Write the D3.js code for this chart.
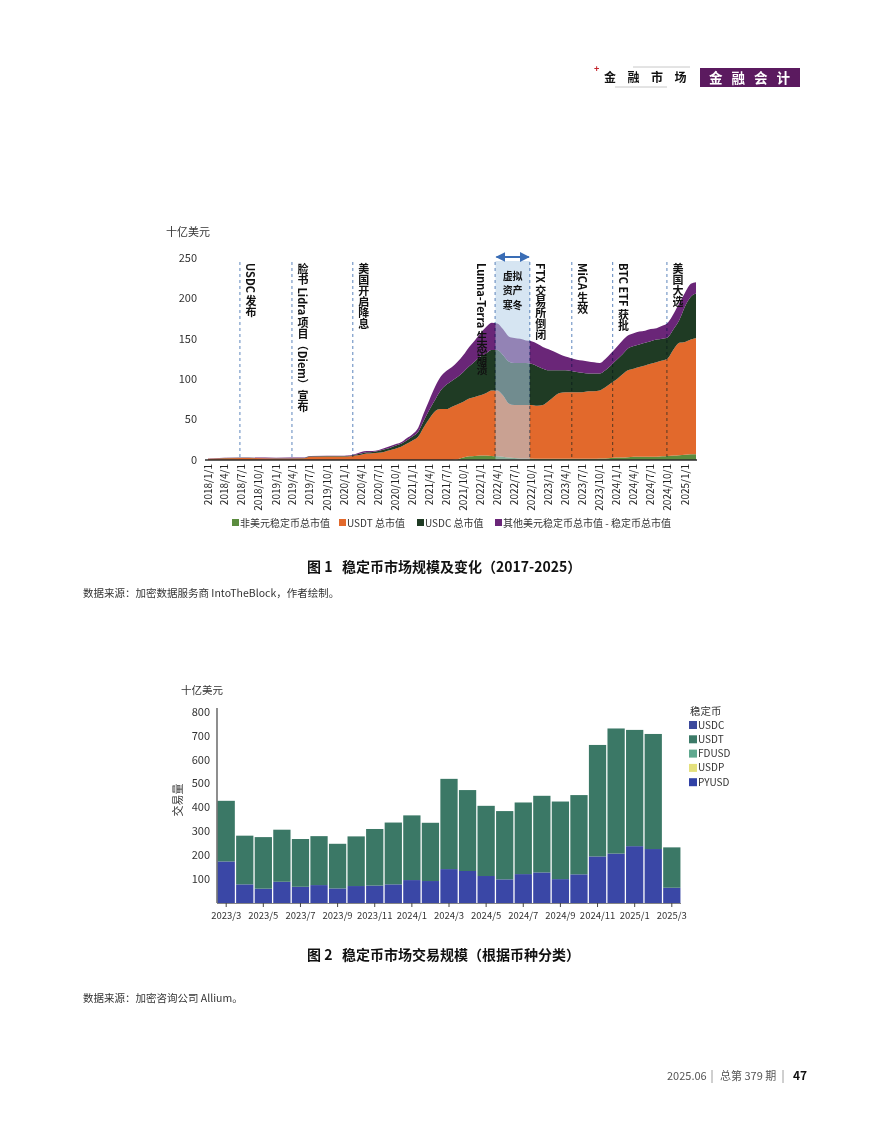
<!DOCTYPE html>
<html><head><meta charset="utf-8">
<script src="https://cdn.jsdelivr.net/npm/d3@7"></script>
<style>
body{margin:0;background:#fff;}
svg{display:block;font-family:"Noto Sans CJK SC","Noto Sans",sans-serif;}
</style></head><body>
<svg id="page" width="884" height="1122"></svg>
<script>
// ---------- Figure 1 data (billion USD) ----------
const marketDates = ["2018-01","2018-07","2019-01","2019-06","2019-07","2020-01","2020-02","2020-03","2020-04","2020-05","2020-06","2020-07","2020-08","2020-09","2020-10","2020-11","2020-12","2021-01","2021-02","2021-03","2021-04","2021-05","2021-06","2021-07","2021-08","2021-09","2021-10","2021-11","2021-12","2022-01","2022-02","2022-03","2022-04","2022-05","2022-06","2022-07","2022-08","2022-09","2022-10","2022-11","2022-12","2023-01","2023-02","2023-03","2023-04","2023-05","2023-06","2023-07","2023-08","2023-09","2023-10","2023-11","2023-12","2024-01","2024-02","2024-03","2024-04","2024-05","2024-06","2024-07","2024-08","2024-09","2024-10","2024-11","2024-12","2025-01","2025-02","2025-03"];
const nonUsdCap = [0,0,0,0,0,0,0,0,0,0,0,0,0,0,0,0,0,0,0,0,0,0,0,0,0,1,3,4.5,5,5.5,5.5,5,4.5,4,3,2.5,2,2,2,1.5,1.5,1.5,1.5,1.5,1.5,1.5,1.5,1.5,1.5,1.5,2,2,2.5,3,3,3.5,4,4,4,4,4,4.5,5,5.5,6,6.5,7,7];
const usdtCap = [1.4,2.5,2.0,2.3,4.0,4.2,4.6,5.5,6.5,8,8.5,9,10,12,14,16.5,20,24,29,40,51,60,63,63,66,68,69,71.5,73,74.5,77.5,81,81.5,76,67,65.5,66,66,66,65.5,66.5,71.5,77.5,81.5,82.5,82.5,82.5,82.5,83.5,83.5,84,88,92.5,97,103,107.5,109,111,113,115,117,118.5,121,131.5,139,139.5,142,144];
const usdcCap = [0.1,0.2,0.3,0.3,0.5,0.6,0.6,1.0,1.5,1.5,1.5,2,3,3,3.5,3.5,4,5,6,8,11,14,23,30,32,34,37,40,44,48,49,50,50,50,52,52,52,52,51,49,45,38,32,28,27,26,25,24,22,22,21,21,22,24,25,27,28,28,28,28,28,27,26,25,28,44,53,55];
const otherUsdCap = [0.5,0.3,0.5,0.4,0.5,0.5,0.6,1.0,2,1.5,1,1,1.5,2,2,2,3,3,5,9,12,16,17,17,17,19,21,24,26,29,33,34,33,32,31,31,30,28,28,28,27,26,23,20,17,16,15,15,15,14,13,14,15,16,17,16,16,16,15,15,14,16,18,19,21,17,16,14];
const marketSeries = ["非美元稳定币总市值","USDT 总市值","USDC 总市值","其他美元稳定币总市值 - 稳定币总市值"];
const marketColors = ["#5b8c3e","#e2692c","#1f3b24","#6a2678"];
const marketTickLabels = ["2018/1/1","2018/4/1","2018/7/1","2018/10/1","2019/1/1","2019/4/1","2019/7/1","2019/10/1","2020/1/1","2020/4/1","2020/7/1","2020/10/1","2021/1/1","2021/4/1","2021/7/1","2021/10/1","2022/1/1","2022/4/1","2022/7/1","2022/10/1","2023/1/1","2023/4/1","2023/7/1","2023/10/1","2024/1/1","2024/4/1","2024/7/1","2024/10/1","2025/1/1"];
const marketYTicks = [0,50,100,150,200,250];
const eventLabels = ["USDC 发布","脸书 Lidra 项目（Diem）宣布","美国开启降息","Lunna-Terra 生态崩溃","FTX 交易所倒闭","MiCA 生效","BTC ETF 获批","美国大选"];
const eventDates = ["2018-06-21","2019-03-27","2020-02-16","2022-03-20","2022-09-22","2023-05-05","2023-12-10","2024-09-26"];
const winterRange = ["2022-03-22","2022-09-22"];
const winterLines = ["虚拟","资产","寒冬"];

// ---------- Figure 2 data (billion USD) ----------
const volMonths = ["2023/3","2023/4","2023/5","2023/6","2023/7","2023/8","2023/9","2023/10","2023/11","2023/12","2024/1","2024/2","2024/3","2024/4","2024/5","2024/6","2024/7","2024/8","2024/9","2024/10","2024/11","2024/12","2025/1","2025/2","2025/3"];
const usdcVol = [174,78,60,89,68,75,61,71,73,78,96,92,142,134,113,99,121,128,100,120,195,207,238,226,64];
const usdtVol = [254,204,216,218,200,205,187,208,237,259,271,244,378,339,294,286,300,321,325,332,467,524,487,482,169];
const volYTicks = [100,200,300,400,500,600,700,800];
const volLegend = ["USDC","USDT","FDUSD","USDP","PYUSD"];
const volLegendColors = ["#3c4a9c","#3c7a68","#5fa88f","#e4e07c","#3142a6"];

const svg = d3.select("#page");
const parse = d3.timeParse("%Y-%m-%d");
const parseM = d3.timeParse("%Y-%m");
const parseTick = d3.timeParse("%Y/%m/%d");

// ---------- Header ----------
svg.append("text").attr("x",594).attr("y",72).attr("font-size",9).attr("fill","#c4242c").attr("font-weight","bold").text("+");
svg.append("line").attr("x1",633).attr("x2",690).attr("y1",67).attr("y2",67).attr("stroke","#c8c8c8");
svg.append("line").attr("x1",615).attr("x2",667).attr("y1",87).attr("y2",87).attr("stroke","#c8c8c8");
svg.append("text").attr("x",604).attr("y",82).attr("font-size",12).attr("font-weight","bold").attr("letter-spacing",11.5).attr("fill","#111").text("金融市场");
svg.append("rect").attr("x",700).attr("y",68).attr("width",100).attr("height",19).attr("fill","#5b1a5f");
svg.append("text").attr("x",709).attr("y",83).attr("font-size",13.5).attr("font-weight","bold").attr("letter-spacing",9).attr("fill","#fff").text("金融会计");

// ---------- Figure 1 ----------
const rows = marketDates.map((d,i)=>({date:parseM(d), a:nonUsdCap[i], b:usdtCap[i], c:usdcCap[i], d:otherUsdCap[i]}));
const x1 = d3.scaleTime().domain([parseTick("2018/1/1"), parseTick("2025/1/1")]).range([208,685]);
const y1 = d3.scaleLinear().domain([0,250]).range([460,258]);
const stack = d3.stack().keys(["a","b","c","d"])(rows);
const area = d3.area().x(d=>x1(d.data.date)).y0(d=>y1(d[0])).y1(d=>y1(d[1])).curve(d3.curveMonotoneX);
const g1 = svg.append("g");
g1.selectAll("path.layer").data(stack).join("path").attr("class","layer")
  .attr("d",area).attr("fill",(d,i)=>marketColors[i]);

// winter band
const wx0 = x1(parse(winterRange[0])), wx1 = x1(parse(winterRange[1]));
g1.append("rect").attr("x",wx0).attr("y",261).attr("width",wx1-wx0).attr("height",y1(0)-261)
  .attr("fill","#b4d0e8").attr("opacity",0.55);

// baseline
g1.append("line").attr("x1",205).attr("x2",x1(parseM("2025-03"))+1).attr("y1",y1(0)).attr("y2",y1(0)).attr("stroke","#2b2b2b").attr("stroke-width",1.3);

// event lines
eventDates.forEach((d,i)=>{
  const xx = x1(parse(d));
  g1.append("line").attr("x1",xx).attr("x2",xx).attr("y1",262).attr("y2",y1(0))
    .attr("stroke","#3f6fb0").attr("stroke-width",1.2).attr("stroke-dasharray","3,3")
    .attr("stroke-opacity",0.7).style("mix-blend-mode","multiply");
  const tx = i===3 ? xx-13 : xx+11;
  g1.append("text").attr("x",tx).attr("y",263)
    .style("writing-mode","vertical-rl")
    .attr("font-size",11).attr("font-weight","bold").attr("fill","#111")
    .text(eventLabels[i]);
});

// winter text and arrow
const wmid = (wx0+wx1)/2;
winterLines.forEach((t,i)=>{
  g1.append("text").attr("x",wmid).attr("y",276+i*14.5).attr("dy","0.35em").attr("text-anchor","middle")
    .attr("font-size",10).attr("font-weight","bold").attr("fill","#111").text(t);
});
const defs = svg.append("defs");
defs.append("marker").attr("id","ah").attr("viewBox","0 0 10 10").attr("refX",9).attr("refY",5)
  .attr("markerWidth",5).attr("markerHeight",5).attr("orient","auto-start-reverse")
  .append("path").attr("d","M0,0L10,5L0,10z").attr("fill","#3a6db5");
g1.append("line").attr("x1",wx0+1).attr("x2",wx1-1).attr("y1",257).attr("y2",257)
  .attr("stroke","#3a6db5").attr("stroke-width",2)
  .attr("marker-start","url(#ah)").attr("marker-end","url(#ah)");

// y ticks
g1.selectAll("text.yt").data(marketYTicks).join("text").attr("class","yt")
  .attr("x",197).attr("y",d=>y1(d)).attr("dy","0.35em").attr("text-anchor","end")
  .attr("font-size",11).attr("fill","#333").text(d=>d);
svg.append("text").attr("x",166).attr("y",236).attr("font-size",11).attr("fill","#333").text("十亿美元");

// x ticks
g1.selectAll("text.xt").data(marketTickLabels).join("text").attr("class","xt")
  .attr("transform",d=>`translate(${x1(parseTick(d))},464) rotate(-90)`)
  .attr("text-anchor","end").attr("dy","0.35em")
  .attr("font-size",10).attr("fill","#222").text(d=>d);

// legend 1
const leg1X = [232,339,417,495];
marketSeries.forEach((s,i)=>{
  svg.append("rect").attr("x",leg1X[i]).attr("y",519).attr("width",7).attr("height",7).attr("fill",marketColors[i]);
  svg.append("text").attr("x",leg1X[i]+8).attr("y",523).attr("dy","0.35em").attr("font-size",10).attr("fill","#333").text(s);
});

svg.append("text").attr("x",307).attr("y",567).attr("dy","0.35em").attr("font-size",14).attr("font-weight","bold").attr("fill","#111")
  .attr("xml:space","preserve").text("图 1   稳定币市场规模及变化（2017-2025）");
svg.append("text").attr("x",83).attr("y",593).attr("dy","0.35em").attr("font-size",10.5).attr("fill","#333")
  .text("数据来源：加密数据服务商 IntoTheBlock，作者绘制。");

// ---------- Figure 2 ----------
const x2 = d3.scaleBand().domain(volMonths).range([217,681]).paddingInner(0.07).paddingOuter(0.03);
const y2 = d3.scaleLinear().domain([0,800]).range([903,712]);
const volRows = volMonths.map((m,i)=>({m, usdc:usdcVol[i], usdt:usdtVol[i]}));
const vstack = d3.stack().keys(["usdc","usdt"])(volRows);
const volColors = ["#3a47a6","#3b7866"];
const g2 = svg.append("g");
g2.selectAll("g.s").data(vstack).join("g").attr("class","s").attr("fill",(d,i)=>volColors[i])
  .selectAll("rect").data(d=>d).join("rect")
  .attr("x",d=>x2(d.data.m)).attr("width",x2.bandwidth())
  .attr("y",d=>y2(d[1])).attr("height",d=>y2(d[0])-y2(d[1]));

g2.append("line").attr("x1",217).attr("x2",217).attr("y1",708).attr("y2",903).attr("stroke","#444").attr("stroke-width",1.2);
g2.append("line").attr("x1",217).attr("x2",681).attr("y1",903.5).attr("y2",903.5).attr("stroke","#666").attr("stroke-width",0.8);
g2.selectAll("text.yt").data(volYTicks).join("text").attr("class","yt")
  .attr("x",210).attr("y",d=>y2(d)).attr("dy","0.35em").attr("text-anchor","end")
  .attr("font-size",11).attr("fill","#333").text(d=>d);
const xLabels = volMonths.filter((m,i)=>i%2===0);
g2.selectAll("line.xt").data(xLabels).join("line").attr("class","xt")
  .attr("x1",d=>x2(d)+x2.bandwidth()/2).attr("x2",d=>x2(d)+x2.bandwidth()/2)
  .attr("y1",903).attr("y2",907).attr("stroke","#444");
g2.selectAll("text.xt").data(xLabels).join("text").attr("class","xt")
  .attr("x",d=>x2(d)+x2.bandwidth()/2).attr("y",916).attr("dy","0.35em").attr("text-anchor","middle")
  .attr("font-size",9.5).attr("fill","#333").text(d=>d);
svg.append("text").attr("x",181).attr("y",694).attr("font-size",10.5).attr("fill","#333").text("十亿美元");
svg.append("text").attr("transform","translate(178,800) rotate(-90)").attr("text-anchor","middle").attr("dy","0.35em")
  .attr("font-size",11).attr("fill","#333").text("交易量");

// legend 2
svg.append("text").attr("x",690).attr("y",711).attr("dy","0.35em").attr("font-size",10.5).attr("fill","#333").text("稳定币");
volLegend.forEach((s,i)=>{
  const yy = 725 + i*14.3;
  svg.append("rect").attr("x",689).attr("y",yy-4).attr("width",8).attr("height",8).attr("fill",volLegendColors[i]);
  svg.append("text").attr("x",698).attr("y",yy).attr("dy","0.35em").attr("font-size",10).attr("fill","#333").text(s);
});

svg.append("text").attr("x",307).attr("y",955).attr("dy","0.35em").attr("font-size",14).attr("font-weight","bold").attr("fill","#111")
  .attr("xml:space","preserve").text("图 2   稳定币市场交易规模（根据币种分类）");
svg.append("text").attr("x",83).attr("y",998).attr("dy","0.35em").attr("font-size",10.5).attr("fill","#333")
  .text("数据来源：加密咨询公司 Allium。");

// ---------- Footer ----------
svg.append("text").attr("x",667).attr("y",1076).attr("dy","0.35em").attr("font-size",11).attr("fill","#555").text("2025.06");
svg.append("line").attr("x1",712).attr("x2",712).attr("y1",1070).attr("y2",1083).attr("stroke","#888").attr("stroke-width",0.8);
svg.append("text").attr("x",720).attr("y",1076).attr("dy","0.35em").attr("font-size",11).attr("fill","#555").text("总第 379 期");
svg.append("line").attr("x1",783).attr("x2",783).attr("y1",1070).attr("y2",1083).attr("stroke","#888").attr("stroke-width",0.8);
svg.append("text").attr("x",793).attr("y",1076).attr("dy","0.35em").attr("font-size",12).attr("font-weight","bold").attr("fill","#111").text("47");
</script>
</body></html>
